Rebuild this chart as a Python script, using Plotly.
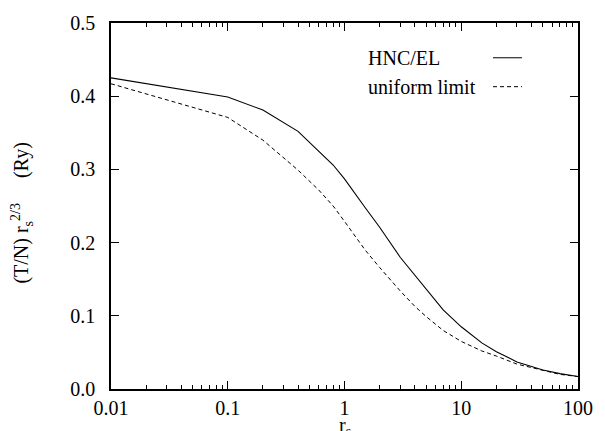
import plotly.graph_objects as go

# r_s values and curves
rs_hnc = [0.01, 0.1, 0.2, 0.4, 0.8, 1.0, 1.5, 2.0, 3.0, 4.0, 5.0, 7.0, 10.0, 15.0, 20.0, 30.0, 50.0, 70.0, 100.0]
t_hnc = [0.425, 0.399, 0.381, 0.352, 0.306, 0.287, 0.248, 0.221, 0.180, 0.155, 0.136, 0.108, 0.085, 0.063, 0.051, 0.037, 0.026, 0.021, 0.017]

rs_uni = [0.01, 0.1, 0.2, 0.4, 0.6, 0.8, 1.0, 1.5, 2.0, 3.0, 4.0, 5.0, 7.0, 10.0, 15.0, 20.0, 30.0, 50.0, 70.0, 100.0]
t_uni = [0.417, 0.371, 0.340, 0.299, 0.272, 0.250, 0.229, 0.190, 0.166, 0.134, 0.113, 0.099, 0.080, 0.065, 0.052, 0.045, 0.034, 0.025, 0.020, 0.017]

x_ticks = [0.01, 0.1, 1, 10, 100]
x_ticktext = ["0.01", "0.1", "1", "10", "100"]
y_ticks = [0.0, 0.1, 0.2, 0.3, 0.4, 0.5]
y_ticktext = ["0.0", "0.1", "0.2", "0.3", "0.4", "0.5"]

minor_vals = [m * d for d in x_ticks[:-1] for m in range(2, 10)]

FONT = "Liberation Serif"
FS = 20

fig = go.Figure()
fig.add_trace(go.Scatter(x=rs_hnc, y=t_hnc, mode="lines", showlegend=False,
                         line=dict(color="black", width=1.1)))
fig.add_trace(go.Scatter(x=rs_uni, y=t_uni, mode="lines", showlegend=False,
                         line=dict(color="black", width=1, dash="4px,3px")))

fig.update_layout(
    width=605, height=431,
    margin=dict(l=111, r=18, t=17, b=41),
    paper_bgcolor="white", plot_bgcolor="white",
    font=dict(family=FONT, size=FS, color="black"),
    xaxis=dict(type="log", range=[-2, 2], tickvals=x_ticks, ticktext=x_ticktext,
               showgrid=False, zeroline=False, showline=True, linecolor="black", linewidth=1.5,
               mirror="ticks", ticks="inside", ticklen=8, tickwidth=1, tickcolor="black",
               minor=dict(tickvals=minor_vals, ticks="inside", ticklen=4, tickwidth=1,
                          tickcolor="black", showgrid=False),
               tickfont=dict(family=FONT, size=FS, color="black"), ticklabelstandoff=0),
    yaxis=dict(range=[0, 0.5], tickvals=y_ticks, ticktext=y_ticktext,
               showgrid=False, zeroline=False, showline=True, linecolor="black", linewidth=1.5,
               mirror="ticks", ticks="inside", ticklen=8, tickwidth=1, tickcolor="black",
               tickfont=dict(family=FONT, size=FS, color="black"), ticklabelstandoff=10),
)

# axis titles
fig.add_annotation(xref="paper", yref="paper", x=0.5, y=-0.062, yanchor="top",
                   text="r<sub>s</sub>", showarrow=False, font=dict(family=FONT, size=FS))
fig.add_annotation(xref="paper", yref="paper", x=-0.19, y=0.48, xanchor="center", yanchor="middle",
                   textangle=-90,
                   text="(T/N) r<sub>s</sub><sup>2/3</sup>&nbsp;&nbsp;&nbsp;&nbsp;&nbsp;(Ry)", showarrow=False,
                   font=dict(family=FONT, size=FS))

# legend (text followed by line sample)
legend_items = [("HNC/EL", None, 0.905), ("uniform limit", "4px,3px", 0.826)]
for label, dash, ypos in legend_items:
    fig.add_annotation(xref="paper", yref="paper", x=0.545, y=ypos, xanchor="left", yanchor="middle",
                       text=label, showarrow=False, font=dict(family=FONT, size=FS))
    fig.add_shape(type="line", xref="paper", yref="paper", x0=0.818, x1=0.88, y0=ypos, y1=ypos,
                  line=dict(color="black", width=1, dash=dash if dash else "solid"))

fig.write_html("out.html")
